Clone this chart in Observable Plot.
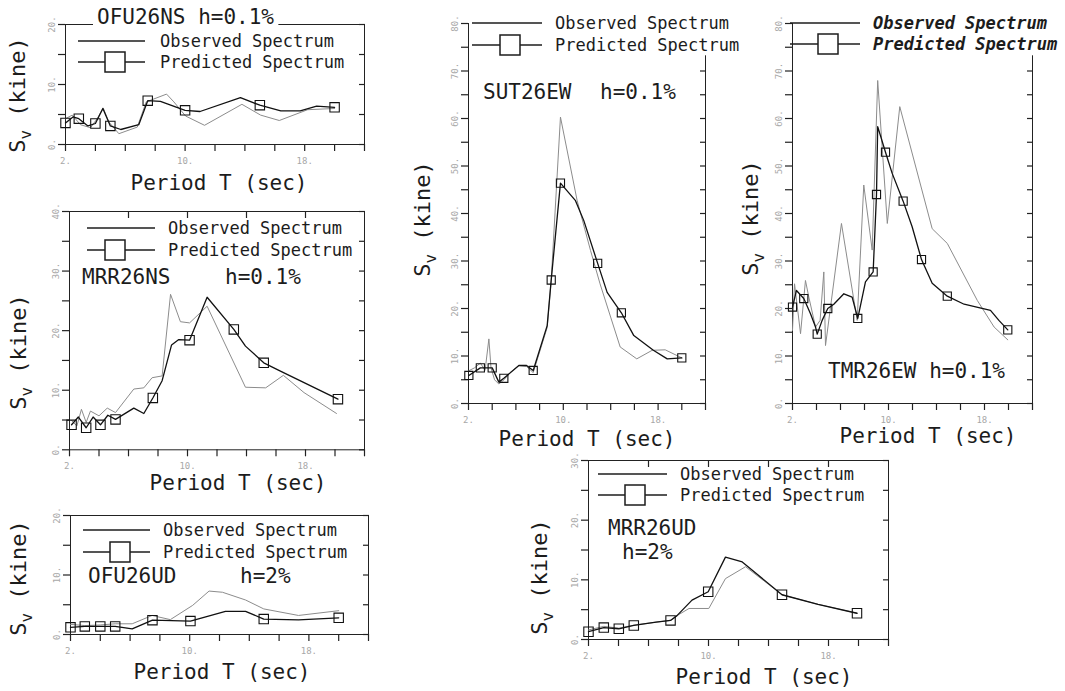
<!DOCTYPE html>
<html>
<head>
<meta charset="utf-8">
<script src="https://cdn.jsdelivr.net/npm/d3@7"></script>
<script src="https://cdn.jsdelivr.net/npm/@observablehq/plot@0.6"></script>
<style>
  body { margin: 0; background: #fff; }
  #fig { position: relative; width: 1065px; height: 691px; overflow: hidden; background: #fff; }
  #fig svg.panel { position: absolute; overflow: visible; }
  #overlay { position: absolute; left: 0; top: 0; pointer-events: none; }
</style>
</head>
<body>
<div id="fig"></div>
<script>
// Velocity response spectra Sv (kine) against period T (sec):
// observed spectrum (plain line) and predicted spectrum (line with square nodes).

// ---- OFU26NS, h = 0.1% ----
const ofuNsObsT   = [2.0, 2.45, 3.0, 3.67, 4.12, 4.52, 4.9, 5.57, 6.8, 7.4, 8.76, 9.25, 10.03, 11.3, 13.8, 15.05, 16.3, 18.2, 20.0];
const ofuNsObsSv  = [4.3, 4.9, 3.3, 2.8, 4.3, 6.1, 3.75, 1.8, 2.9, 7.1, 8.4, 7.1, 4.75, 3.2, 6.7, 4.9, 4.0, 5.8, 6.0];
const ofuNsPredT  = [2.0, 2.5, 2.89, 3.5, 4.0, 4.5, 5.0, 5.7, 6.9, 7.5, 8.35, 10.0, 11.0, 13.7, 15.0, 16.4, 17.7, 18.8, 20.0];
const ofuNsPredSv = [3.6, 4.6, 4.3, 3.1, 3.5, 6.0, 3.1, 2.5, 3.3, 7.3, 7.2, 5.7, 5.5, 7.8, 6.55, 5.6, 5.6, 6.4, 6.2];
const ofuNsNode   = [1, 0, 1, 0, 1, 0, 1, 0, 0, 1, 0, 1, 0, 0, 1, 0, 0, 0, 1];

// ---- MRR26NS, h = 0.1% ----
const mrrNsObsT   = [2.14, 2.5, 2.81, 3.13, 3.42, 4.0, 4.56, 5.12, 6.36, 7.04, 7.6, 8.28, 8.85, 9.52, 10.14, 11.33, 13.93, 15.3, 16.5, 17.9, 20.1];
const mrrNsObsSv  = [4.9, 4.0, 6.8, 4.6, 6.5, 5.7, 7.0, 6.25, 10.2, 10.4, 12.1, 12.4, 26.1, 21.5, 21.3, 24.1, 10.5, 10.4, 12.5, 9.6, 6.1];
const mrrNsPredT  = [2.14, 2.6, 3.13, 3.6, 4.1, 4.6, 5.12, 6.36, 7.04, 7.65, 8.28, 8.92, 9.41, 10.14, 11.33, 13.14, 13.93, 15.17, 16.3, 20.2];
const mrrNsPredSv = [4.2, 5.5, 3.7, 5.5, 4.2, 5.8, 5.1, 7.0, 6.1, 8.7, 11.6, 17.6, 18.5, 18.4, 25.6, 20.2, 17.4, 14.6, 13.2, 8.5];
const mrrNsNode   = [1, 0, 1, 0, 1, 0, 1, 0, 0, 1, 0, 0, 0, 1, 0, 1, 0, 1, 0, 1];

// ---- OFU26UD, h = 2% ----
const ofuUdObsT   = [2.0, 2.96, 4.0, 5.0, 6.14, 7.48, 8.7, 10.2, 11.3, 12.2, 13.75, 14.97, 17.3, 20.0];
const ofuUdObsSv  = [1.7, 1.5, 1.6, 1.8, 1.8, 3.2, 2.5, 4.9, 7.3, 7.1, 5.8, 4.3, 3.2, 4.0];
const ofuUdPredT  = [2.0, 2.96, 4.0, 5.0, 6.14, 7.5, 10.05, 12.4, 13.75, 14.97, 17.3, 20.0];
const ofuUdPredSv = [1.2, 1.35, 1.35, 1.35, 0.95, 2.4, 2.25, 3.9, 3.9, 2.6, 2.45, 2.8];
const ofuUdNode   = [1, 1, 1, 1, 0, 1, 1, 0, 0, 1, 0, 1];

// ---- SUT26EW, h = 0.1% ----
const sutEwObsT   = [2.03, 2.5, 3.0, 3.4, 3.72, 3.9, 4.2, 4.56, 5.0, 5.5, 6.25, 6.9, 7.46, 8.64, 8.98, 9.76, 11.17, 12.3, 13.1, 14.8, 16.2, 17.5, 18.6, 20.0];
const sutEwObsSv  = [6.9, 7.5, 8.5, 7.0, 13.6, 7.5, 5.0, 4.1, 5.0, 6.5, 8.0, 7.8, 6.5, 16.0, 26.0, 60.3, 42.7, 32.2, 25.2, 11.9, 9.4, 11.2, 11.3, 9.6];
const sutEwPredT  = [2.03, 3.0, 4.0, 4.56, 4.98, 6.25, 6.9, 7.46, 8.64, 8.98, 9.76, 11.03, 11.73, 12.9, 13.7, 14.9, 15.95, 17.6, 18.77, 20.0];
const sutEwPredSv = [5.9, 7.5, 7.5, 4.5, 5.3, 8.0, 8.0, 6.95, 16.4, 26.0, 46.4, 42.7, 38.5, 29.5, 23.4, 19.1, 14.3, 11.2, 9.4, 9.6];
const sutEwNode   = [1, 1, 1, 0, 1, 0, 0, 1, 0, 1, 1, 0, 0, 1, 0, 1, 0, 0, 0, 1];

// ---- TMR26EW, h = 0.1% ----
const tmrEwObsT   = [2.0, 2.17, 2.67, 3.08, 3.36, 3.92, 4.3, 4.61, 4.75, 6.08, 7.39, 7.94, 8.64, 9.1, 9.9, 10.94, 13.64, 14.9, 17.4, 18.8, 19.94];
const tmrEwObsSv  = [15.4, 25.2, 14.7, 25.9, 22.4, 16.1, 17.5, 27.7, 12.2, 37.9, 17.5, 46.0, 32.3, 68.0, 37.9, 62.5, 36.8, 33.7, 21.7, 16.1, 13.4];
const tmrEwPredT  = [2.0, 2.33, 2.94, 3.5, 3.92, 4.06, 4.47, 4.94, 5.44, 6.28, 6.97, 7.44, 8.08, 8.72, 9.0, 9.1, 9.75, 10.3, 11.22, 11.97, 12.75, 13.64, 14.9, 16.3, 18.5, 19.2, 19.94];
const tmrEwPredSv = [20.3, 23.8, 22.1, 18.9, 16.1, 14.6, 17.5, 20.0, 20.9, 23.1, 22.4, 17.9, 25.6, 27.7, 44.0, 58.3, 52.9, 48.5, 42.6, 37.2, 30.3, 25.3, 22.6, 20.9, 19.6, 17.5, 15.5];
const tmrEwNode   = [1, 0, 1, 0, 0, 1, 0, 1, 0, 0, 0, 1, 0, 1, 1, 0, 1, 0, 1, 0, 1, 0, 1, 0, 0, 0, 1];

// ---- MRR26UD, h = 2% ----
const mrrUdObsT   = [2.0, 3.02, 4.02, 5.02, 6.5, 7.47, 7.9, 8.7, 10.02, 11.13, 12.47, 14.9, 17.3, 19.9];
const mrrUdObsSv  = [1.6, 2.2, 1.9, 2.4, 2.9, 3.2, 4.0, 5.2, 5.2, 10.2, 12.2, 7.5, 5.9, 4.4];
const mrrUdPredT  = [2.0, 3.02, 4.02, 5.02, 6.5, 7.47, 7.9, 8.9, 9.98, 11.13, 12.25, 14.9, 17.3, 19.9];
const mrrUdPredSv = [1.3, 2.0, 1.8, 2.35, 2.9, 3.2, 4.0, 6.6, 8.0, 13.8, 13.0, 7.5, 5.9, 4.4];
const mrrUdNode   = [1, 1, 1, 1, 0, 1, 0, 0, 1, 0, 0, 1, 0, 1];

// Axis tick values and labels
const periodTicks = [2, 4, 6, 8, 10, 12, 14, 16, 18, 20, 22];
const periodTickLabels = [2, 10, 18];
const periodTopTicks = [6, 10, 14, 18];
const legendLabels = ["Observed Spectrum", "Predicted Spectrum"];

const MONO = "'DejaVu Sans Mono', 'Liberation Mono', monospace";
const INK = "#1c1c1c";
const AXIS = "#222";

// Page placement of each plot frame (x0/x1: T = 2 / 22, yB/yT: Sv = 0 / max)
const panels = [
  {x0: 65, x1: 364, yB: 144, yT: 24, ymax: 20, box: true, r: 5.3,
   obsT: ofuNsObsT, obsSv: ofuNsObsSv, predT: ofuNsPredT, predSv: ofuNsPredSv, node: ofuNsNode,
   texts: [{t: "OFU26NS h=0.1%", x: 97, y: 24, mask: true}],
   legend: {lx1: 78, lx2: 145, y1: 41, y2: 62, sq: 115, tx: 160, b1: 47, b2: 68},
   xl: {x: 219, y: 190}, yl: {x: 25, y: 95}},
  {x0: 69, x1: 364, yB: 449, yT: 210.7, ymax: 40, box: true, topTicks: true, r: 5.3,
   obsT: mrrNsObsT, obsSv: mrrNsObsSv, predT: mrrNsPredT, predSv: mrrNsPredSv, node: mrrNsNode,
   texts: [{t: "MRR26NS", x: 82, y: 284}, {t: "h=0.1%", x: 225, y: 284}],
   legend: {lx1: 87, lx2: 155, y1: 228, y2: 250, sq: 115, tx: 168, b1: 234, b2: 256},
   xl: {x: 238, y: 490}, yl: {x: 26, y: 352}},
  {x0: 70, x1: 368, yB: 634, yT: 515, ymax: 20, box: true, r: 5.3,
   obsT: ofuUdObsT, obsSv: ofuUdObsSv, predT: ofuUdPredT, predSv: ofuUdPredSv, node: ofuUdNode,
   texts: [{t: "OFU26UD", x: 88, y: 583}, {t: "h=2%", x: 240, y: 583}],
   legend: {lx1: 83, lx2: 150, y1: 530, y2: 552, sq: 120, tx: 163, b1: 536, b2: 558},
   xl: {x: 222, y: 679}, yl: {x: 26, y: 578}},
  {x0: 468, x1: 705, yB: 403, yT: 23, ymax: 80, box: false, r: 4.6,
   obsT: sutEwObsT, obsSv: sutEwObsSv, predT: sutEwPredT, predSv: sutEwPredSv, node: sutEwNode,
   texts: [{t: "SUT26EW", x: 483, y: 99}, {t: "h=0.1%", x: 600, y: 99}],
   legend: {lx1: 472, lx2: 542, y1: 23, y2: 45, sq: 510, tx: 555, b1: 29, b2: 51},
   xl: {x: 587, y: 446}, yl: {x: 430, y: 219}},
  {x0: 792, x1: 1032, yB: 403, yT: 23, ymax: 80, box: false, r: 4.6,
   obsT: tmrEwObsT, obsSv: tmrEwObsSv, predT: tmrEwPredT, predSv: tmrEwPredSv, node: tmrEwNode,
   texts: [{t: "TMR26EW h=0.1%", x: 828, y: 378}],
   legend: {lx1: 790, lx2: 860, y1: 23, y2: 44, sq: 828, tx: 873, b1: 29, b2: 50, bold: true},
   xl: {x: 928, y: 443}, yl: {x: 758, y: 218}},
  {x0: 588, x1: 888, yB: 639, yT: 460, ymax: 30, box: true, topTicks: true, r: 5.3,
   obsT: mrrUdObsT, obsSv: mrrUdObsSv, predT: mrrUdPredT, predSv: mrrUdPredSv, node: mrrUdNode,
   texts: [{t: "MRR26UD", x: 608, y: 535}, {t: "h=2%", x: 622, y: 559}],
   legend: {lx1: 598, lx2: 667, y1: 474, y2: 495, sq: 635, tx: 680, b1: 480, b2: 501},
   xl: {x: 764, y: 684}, yl: {x: 547, y: 577}}
];

const fig = document.getElementById("fig");

function drawPanel(p) {
  const obs = p.obsT.map((t, i) => ({t, sv: p.obsSv[i]}));
  const pred = p.predT.map((t, i) => ({t, sv: p.predSv[i], node: p.node[i]}));
  const ml = 34, mr = 12, mt = 10, mb = 30;
  const yTicks = d3.range(0, p.ymax + 0.1, 5);
  const yLabelTicks = yTicks.filter(d => d % 10 === 0);
  // open panels: the right-hand line stops below the legend
  const rightTop = p.box ? p.ymax : p.ymax * 0.915;
  const rightTicks = yTicks.filter(d => d <= rightTop);
  const frameMarks = p.box
    ? [Plot.frame({stroke: AXIS, strokeWidth: 1})]
    : [Plot.ruleY([0], {stroke: AXIS}), Plot.ruleX([2], {stroke: AXIS}),
       Plot.ruleX([22], {y1: 0, y2: rightTop, stroke: AXIS})];
  const svg = Plot.plot({
    width: (p.x1 - p.x0) + ml + mr,
    height: (p.yB - p.yT) + mt + mb,
    marginLeft: ml, marginRight: mr, marginTop: mt, marginBottom: mb,
    x: {domain: [2, 22]},
    y: {domain: [0, p.ymax]},
    style: {background: "transparent", color: AXIS, overflow: "visible"},
    marks: [
      ...frameMarks,
      // tick marks: outward on the left and bottom, inward on the right and top
      Plot.axisX({ticks: periodTicks, tickSize: 7, stroke: AXIS, strokeWidth: 1.2, tickFormat: () => "", label: null}),
      Plot.axisY({ticks: yTicks, tickSize: 7, stroke: AXIS, strokeWidth: 1.2, tickFormat: () => "", label: null}),
      Plot.axisY({anchor: "right", ticks: rightTicks, tickSize: 6, insetRight: 6, stroke: AXIS, strokeWidth: 1.2,
        tickFormat: () => "", label: null}),
      ...(p.topTicks ? [Plot.axisX({anchor: "top", ticks: periodTopTicks, tickSize: 6, insetTop: 6,
        stroke: AXIS, strokeWidth: 1.2, tickFormat: () => "", label: null})] : []),
      // faint tick labels
      Plot.axisY({ticks: yLabelTicks, tickSize: 0, tickRotate: -90, tickPadding: 11,
        tickFormat: d => d + ".", fontSize: 9, color: "#a8a8a8", label: null, fontFamily: MONO}),
      Plot.axisX({ticks: periodTickLabels, tickSize: 0, tickPadding: 13,
        tickFormat: d => d + ".", fontSize: 9, color: "#a8a8a8", label: null, fontFamily: MONO}),
      // spectra
      Plot.line(obs, {x: "t", y: "sv", stroke: "#8c8c8c", strokeWidth: 1}),
      Plot.line(pred, {x: "t", y: "sv", stroke: "#111", strokeWidth: 1.3}),
      Plot.dot(pred.filter(d => d.node), {x: "t", y: "sv", symbol: "square", r: p.r,
        stroke: "#111", strokeWidth: 1.1, fill: "none"})
    ]
  });
  svg.classList.add("panel");
  svg.style.left = (p.x0 - ml) + "px";
  svg.style.top = (p.yT - mt) + "px";
  fig.appendChild(svg);
}

panels.forEach(drawPanel);

// Titles, legends and axis titles
const overlay = d3.select(fig).append("svg")
  .attr("id", "overlay").attr("width", 1065).attr("height", 691)
  .attr("font-family", MONO).attr("fill", INK);

panels.forEach(p => {
  p.texts.forEach(d => {
    const g = overlay.append("g");
    const t = g.append("text")
      .attr("x", d.x).attr("y", d.y).attr("font-size", 21).text(d.t);
    if (d.mask) {
      // blank the frame line behind the heading
      const b = t.node().getBBox();
      g.insert("rect", "text").attr("x", b.x - 4).attr("y", b.y)
        .attr("width", b.width + 8).attr("height", b.height).attr("fill", "#fff");
    }
  });

  const L = p.legend;
  const lg = overlay.append("g");
  lg.append("line").attr("x1", L.lx1).attr("x2", L.lx2).attr("y1", L.y1).attr("y2", L.y1)
    .attr("stroke", INK).attr("stroke-width", 1.5);
  lg.append("line").attr("x1", L.lx1).attr("x2", L.lx2).attr("y1", L.y2).attr("y2", L.y2)
    .attr("stroke", INK).attr("stroke-width", 1.5);
  lg.append("rect").attr("x", L.sq - 10).attr("y", L.y2 - 10).attr("width", 20).attr("height", 20)
    .attr("fill", "#fff").attr("stroke", INK).attr("stroke-width", 1.5);
  [[legendLabels[0], L.b1], [legendLabels[1], L.b2]].forEach(([t, b]) => {
    const tx = lg.append("text").attr("x", L.tx).attr("y", b).attr("font-size", 17).text(t);
    if (L.bold) tx.attr("font-weight", "bold").attr("font-style", "italic");
  });

  overlay.append("text").attr("x", p.xl.x).attr("y", p.xl.y).attr("text-anchor", "middle")
    .attr("font-size", 21).text("Period T (sec)");

  const yt = overlay.append("text")
    .attr("transform", `translate(${p.yl.x},${p.yl.y}) rotate(-90)`)
    .attr("text-anchor", "middle").attr("font-size", 22);
  yt.append("tspan").text("S");
  yt.append("tspan").attr("font-size", 16).attr("dy", 6).text("v");
  yt.append("tspan").attr("dy", -6).text(" (kine)");
});
</script>
</body>
</html>
